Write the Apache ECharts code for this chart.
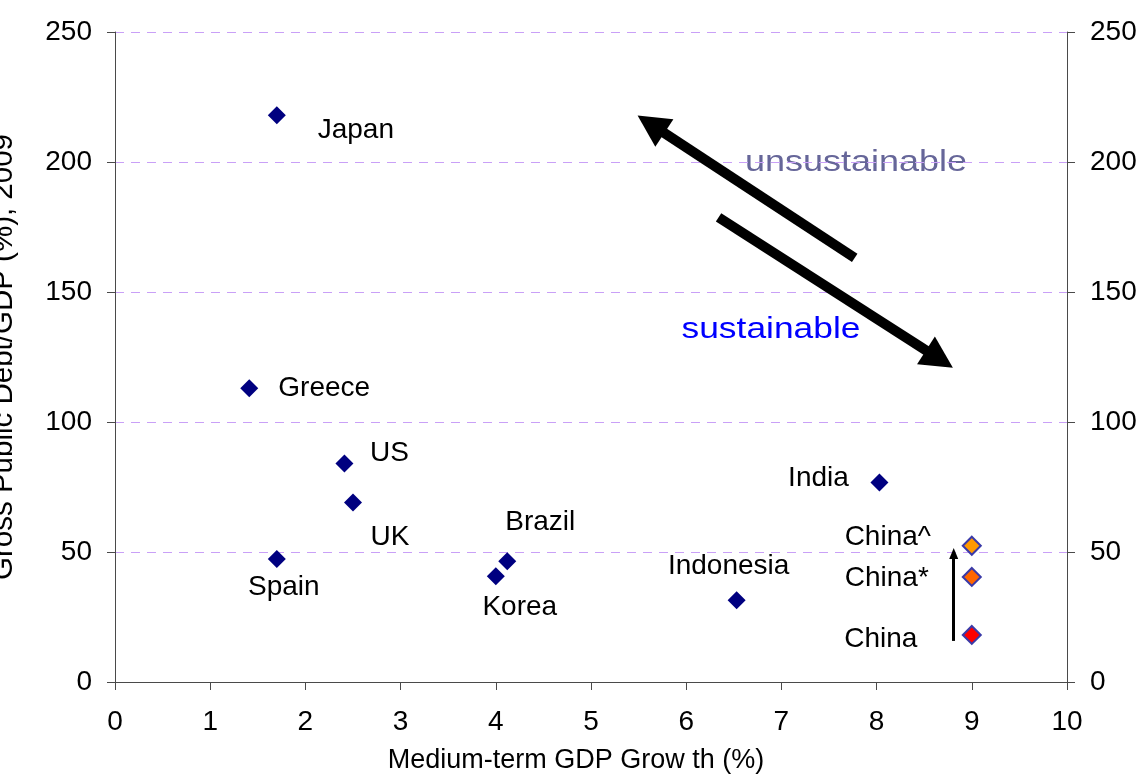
<!DOCTYPE html>
<html>
<head>
<meta charset="utf-8">
<script src="https://cdn.jsdelivr.net/npm/echarts@6/dist/echarts.min.js"></script>
<style>
  html, body { margin: 0; padding: 0; background: #ffffff; }
  #chart { width: 1143px; height: 778px; }
</style>
</head>
<body>
<div id="chart"></div>
<script>
// Economies plotted as (medium-term growth %, gross public debt % of GDP)
const economies = ['Japan', 'Greece', 'US', 'UK', 'Spain', 'Brazil', 'Korea', 'Indonesia', 'India'];
const growth = [1.70, 1.41, 2.41, 2.50, 1.70, 4.12, 4.00, 6.53, 8.03];
const debt = [218.0, 113.0, 84.0, 69.0, 47.3, 46.4, 40.7, 31.4, 76.7];

// China under three debt definitions
const chinaNames = ['China^', 'China*', 'China'];
const chinaGrowth = [9, 9, 9];
const chinaDebt = [52.4, 40.4, 18.1];
const chinaColors = ['#ff9900', '#ff6600', '#ff0000'];

// Axis ranges and tick steps
const xMin = 0, xMax = 10, xStep = 1;
const yMin = 0, yMax = 250, yStep = 50;

// Direction arrows in data units: [start, end]
const trendArrows = [
  [[7.77, 163.1], [5.63, 214.5]],   // towards unsustainable
  [[6.34, 178.7], [8.66, 124.2]]    // towards sustainable
];
const chinaArrow = [[8.81, 15.8], [8.81, 49.4]];

// Label placement around each marker (pixel offsets from the marker centre)
const labelOffsets = {
  'Japan': [79, 15], 'Greece': [75, 0], 'US': [45, -10], 'UK': [37, 35],
  'Spain': [7, 28], 'Brazil': [33, -39], 'Korea': [24, 31],
  'Indonesia': [-8, -34], 'India': [-61, -4],
  'China^': [-84, -8], 'China*': [-85, 1], 'China': [-91, 4]
};

const FONT = '"Liberation Sans", Arial, Helvetica, sans-serif';
const TEXT_SIZE = 28;

function pointLabel(name) {
  return {
    show: true,
    position: 'inside',
    offset: labelOffsets[name],
    formatter: name,
    color: '#000000',
    textBorderWidth: 0,
    fontFamily: FONT,
    fontSize: TEXT_SIZE
  };
}

const economyData = economies.map((name, i) => ({
  name: name,
  value: [growth[i], debt[i]],
  label: pointLabel(name)
}));

const chinaData = chinaNames.map((name, i) => ({
  name: name,
  value: [chinaGrowth[i], chinaDebt[i]],
  itemStyle: { color: chinaColors[i], borderColor: '#3a3aa8', borderWidth: 2, opacity: 1 },
  label: pointLabel(name)
}));

const axisLabelStyle = { color: '#000', fontFamily: FONT, fontSize: TEXT_SIZE, margin: 23 };
const axisLineStyle = { show: true, lineStyle: { color: '#4a4a4a', width: 1 } };
const axisTickStyle = { show: true, inside: false, length: 8, lineStyle: { color: '#4a4a4a', width: 1 } };

const chart = echarts.init(document.getElementById('chart'), null, { renderer: 'canvas' });

chart.setOption({
  animation: false,
  backgroundColor: '#ffffff',
  textStyle: { fontFamily: FONT },
  grid: { left: 115, right: 76, top: 32, bottom: 96, containLabel: false, outerBoundsMode: 'none' },
  xAxis: {
    type: 'value',
    min: xMin, max: xMax, interval: xStep,
    name: 'Medium-term GDP Grow th (%)',
    nameLocation: 'middle',
    nameGap: 65,
    nameTextStyle: { color: '#000', fontFamily: FONT, fontSize: 27, padding: [0, 30, 0, 0] },
    axisLine: axisLineStyle,
    axisTick: axisTickStyle,
    axisLabel: Object.assign({}, axisLabelStyle, { margin: 26 }),
    splitLine: { show: false }
  },
  yAxis: [
    {
      type: 'value',
      position: 'left',
      min: yMin, max: yMax, interval: yStep,
      name: 'Gross Public Debt/GDP (%), 2009',
      nameLocation: 'middle',
      nameGap: 96,
      nameTextStyle: { color: '#000', fontFamily: FONT, fontSize: 29.5 },
      axisLine: axisLineStyle,
      axisTick: axisTickStyle,
      axisLabel: axisLabelStyle,
      splitLine: { show: true, lineStyle: { color: '#c9a0f7', width: 1, type: [9, 7] } }
    },
    {
      type: 'value',
      position: 'right',
      min: yMin, max: yMax, interval: yStep,
      axisLine: axisLineStyle,
      axisTick: axisTickStyle,
      axisLabel: axisLabelStyle,
      splitLine: { show: false }
    }
  ],
  series: [
    {
      name: 'Economies',
      type: 'scatter',
      yAxisIndex: 0,
      symbol: 'diamond',
      symbolSize: 18,
      itemStyle: { color: '#000080', opacity: 1 },
      emphasis: { disabled: true },
      data: economyData,
      markLine: {
        silent: true,
        animation: false,
        symbol: ['none', 'triangle'],
        symbolSize: [33, 32],
        label: { show: false },
        lineStyle: { color: '#000', width: 10, type: 'solid', opacity: 1 },
        emphasis: { disabled: true },
        data: trendArrows.map(a => [{ coord: a[0] }, { coord: a[1] }])
      }
    },
    {
      name: 'China',
      type: 'scatter',
      yAxisIndex: 0,
      symbol: 'diamond',
      symbolSize: 18,
      itemStyle: { opacity: 1 },
      emphasis: { disabled: true },
      data: chinaData,
      markLine: {
        silent: true,
        animation: false,
        symbol: ['none', 'triangle'],
        symbolSize: [9, 11],
        label: { show: false },
        lineStyle: { color: '#000', width: 3, type: 'solid', opacity: 1 },
        emphasis: { disabled: true },
        data: [[{ coord: chinaArrow[0] }, { coord: chinaArrow[1] }]]
      }
    }
  ],
  graphic: [
    {
      type: 'text',
      x: 856, y: 163, scaleX: 1.2, silent: true,
      style: {
        text: 'unsustainable', x: 0, y: 0,
        align: 'center', verticalAlign: 'middle',
        font: '30px ' + FONT, fill: '#666699'
      }
    },
    {
      type: 'text',
      x: 771, y: 330, scaleX: 1.22, silent: true,
      style: {
        text: 'sustainable', x: 0, y: 0,
        align: 'center', verticalAlign: 'middle',
        font: '29px ' + FONT, fill: '#0000ff'
      }
    }
  ]
});
</script>
</body>
</html>
